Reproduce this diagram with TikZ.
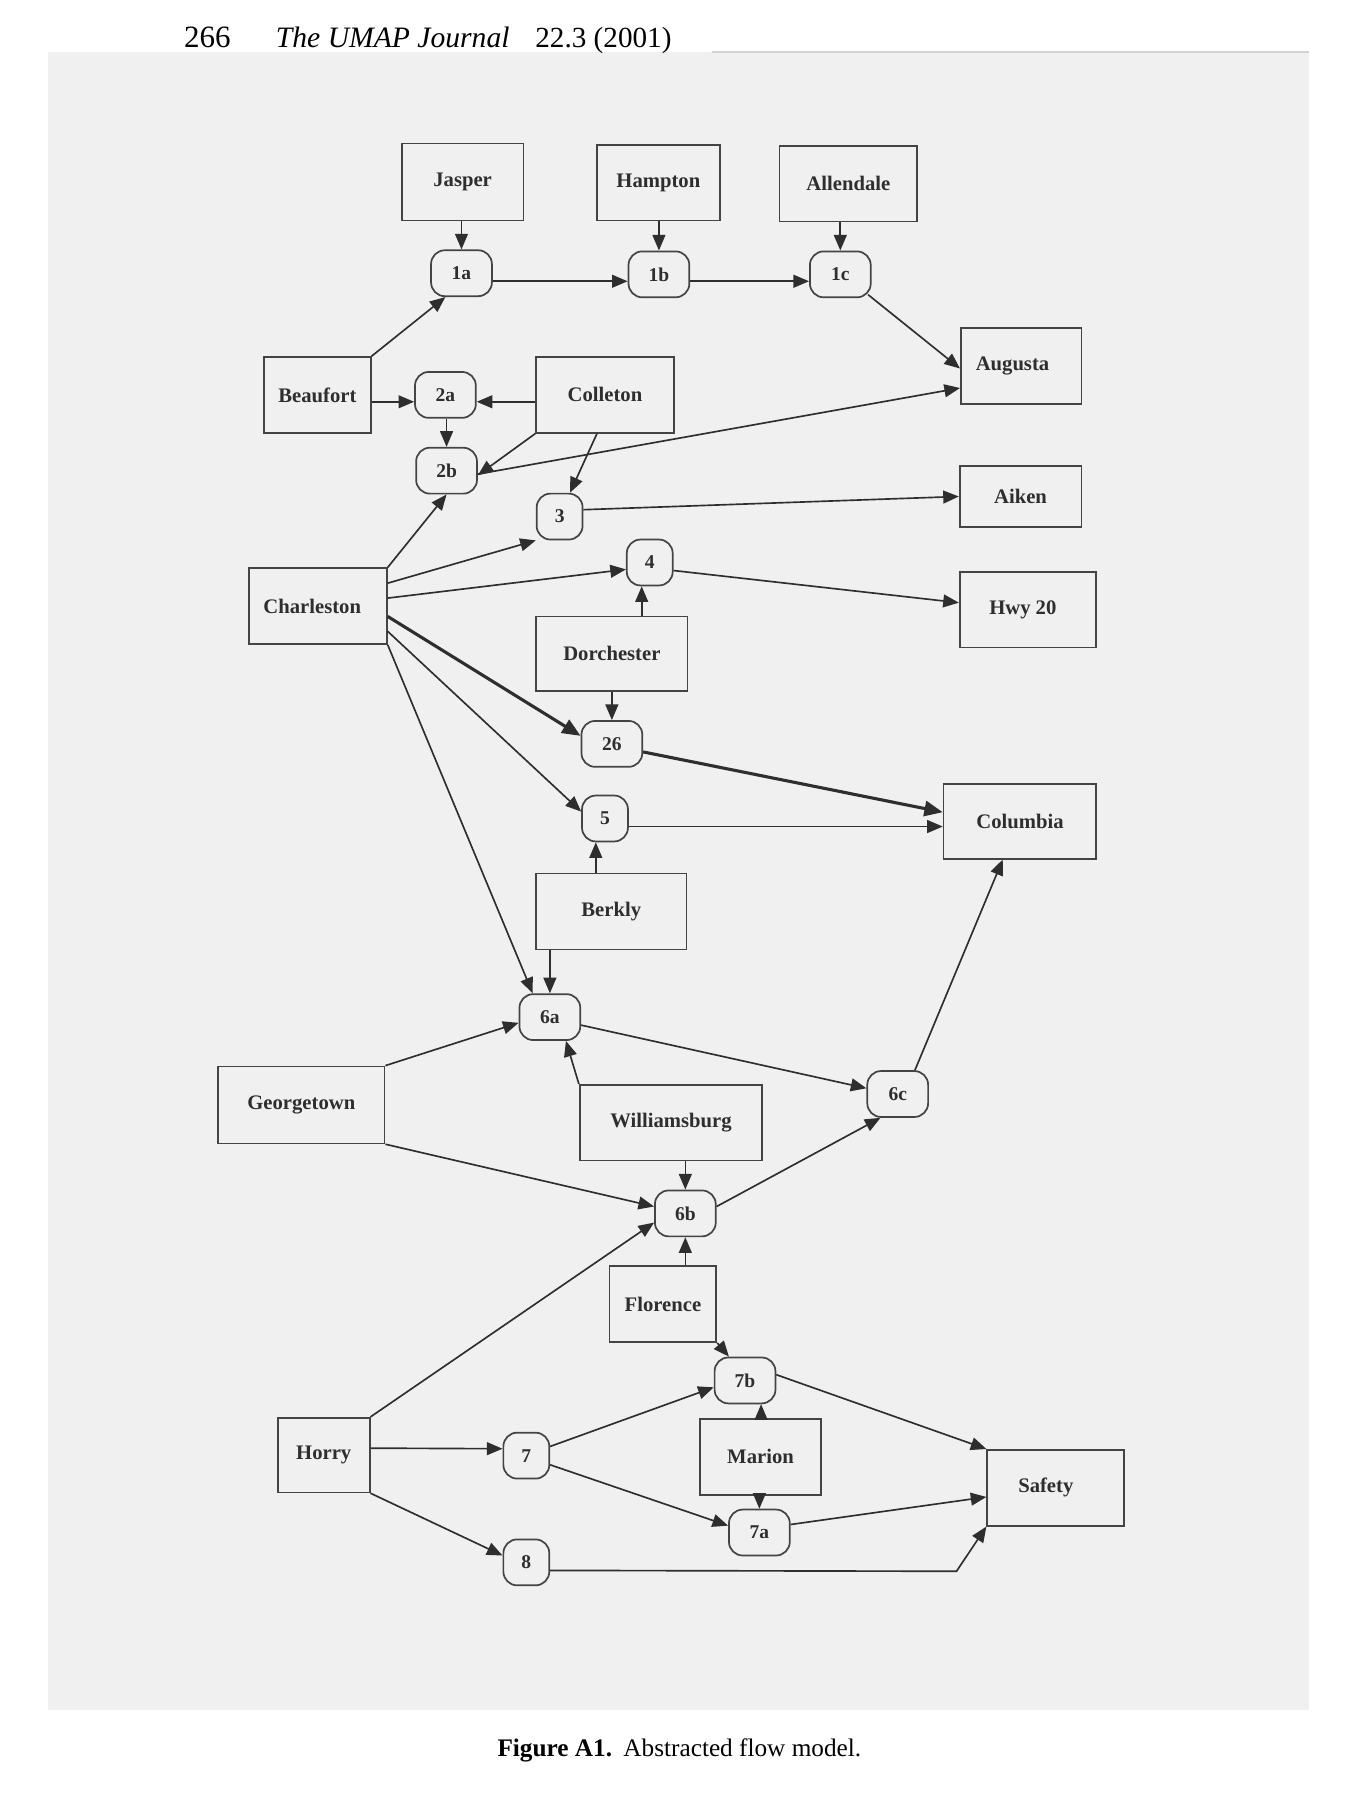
\documentclass[tikz,border=0pt]{standalone}
\usepackage{fontspec}
\setmainfont{Liberation Serif}
\usetikzlibrary{arrows.meta,calc}
\definecolor{scanbg}{HTML}{F0F0F0}
\definecolor{ink}{HTML}{2E2E2E}
\definecolor{frame}{HTML}{444444}
\begin{document}
\begin{tikzpicture}[x=0.5pt,y=-0.5pt,
  county/.style={draw=frame, line width=0.75pt, rectangle, inner sep=0pt,
    font=\bfseries\fontsize{9}{10}\selectfont, text=ink},
  junc/.style={draw=frame, line width=0.75pt, rounded corners=6pt, inner sep=0pt,
    minimum width=20pt, minimum height=20pt,
    font=\bfseries\fontsize{8.5}{10}\selectfont, text=ink},
  wide/.style={minimum width=26.5pt},
  flow/.style={draw=ink, line width=0.72pt, -{Triangle[length=6.8pt,width=5.6pt]}},
  mainflow/.style={draw=ink, line width=1.35pt, -{Triangle[length=8pt,width=6.6pt]}},
  head/.style={anchor=base west, inner sep=0pt, text=black},
]
\useasboundingbox (0,0) rectangle (1188,1568);
\fill[white] (0,0) rectangle (1188,1568);
\fill[scanbg] (42,45) rectangle (1140,1490);
\draw[gray!35, line width=0.8pt] (620,45) -- (1140,45);

% running head and caption
\node[head, font=\fontsize{13.5}{16}\selectfont] (pagenum) at (160,41) {266};
\node[head, font=\itshape\fontsize{12.9}{16}\selectfont] (journal) at (240,41) {The UMAP Journal};
\node[head, font=\fontsize{12.7}{16}\selectfont] (issue) at (466,41) {22.3 (2001)};
\node[head, font=\fontsize{11}{13}\selectfont] (caption) at (433,1530)
  {\textbf{Figure A1.}\hspace{0.45em}Abstracted flow model.};

% counties and destinations
\node[county, minimum width=53pt,   minimum height=33.5pt] (jasper)      at (403,158.5)  {Jasper};
\node[county, minimum width=53.5pt, minimum height=33pt]   (hampton)     at (573.5,159)  {Hampton};
\node[county, minimum width=60pt,   minimum height=33pt]   (allendale)   at (739,160)    {Allendale};
\node[county, minimum width=52.5pt, minimum height=33pt]   (augusta)     at (889.5,319)  {\hspace*{-7.5pt}Augusta};
\node[county, minimum width=46.5pt, minimum height=33pt]   (beaufort)    at (276.5,344)  {Beaufort};
\node[county, minimum width=60pt,   minimum height=33pt]   (colleton)    at (527,344)    {Colleton};
\node[county, minimum width=53pt,   minimum height=26.5pt] (aiken)       at (889,432.5)  {Aiken};
\node[county, minimum width=60pt,   minimum height=33pt]   (charleston)  at (277,528)    {\hspace*{-5pt}Charleston};
\node[county, minimum width=59.5pt, minimum height=33pt]   (hwy20)       at (895.5,531)  {\hspace*{-4.5pt}Hwy 20};
\node[county, minimum width=66pt,   minimum height=32.5pt] (dorchester)  at (533,569.5)  {Dorchester};
\node[county, minimum width=66.5pt, minimum height=32.5pt] (columbia)    at (888.5,715.5){Columbia};
\node[county, minimum width=65.5pt, minimum height=33pt]   (berkly)      at (532.5,794)  {Berkly};
\node[county, minimum width=72.5pt, minimum height=33.5pt] (georgetown)  at (262.5,962.5){Georgetown};
\node[county, minimum width=79.5pt, minimum height=33pt]   (williamsburg) at (584.5,978) {Williamsburg};
\node[county, minimum width=46.5pt, minimum height=33pt]   (florence)    at (577.5,1136) {Florence};
\node[county, minimum width=40pt,   minimum height=32.5pt] (horry)       at (282,1267.5) {Horry};
\node[county, minimum width=52.5pt, minimum height=33pt]   (marion)      at (662.5,1269) {Marion};
\node[county, minimum width=59.5pt, minimum height=33pt]   (safety)      at (919.5,1296) {\hspace*{-8.5pt}Safety};

% junctions
\node[junc, wide] (j1a) at (402,238)    {1a};
\node[junc, wide] (j1b) at (574,239)    {1b};
\node[junc, wide] (j1c) at (732,239)    {1c};
\node[junc, wide] (j2a) at (388,344)    {2a};
\node[junc, wide] (j2b) at (389,410)    {2b};
\node[junc]       (j3)  at (487.5,450)  {3};
\node[junc]       (j4)  at (566,490)    {4};
\node[junc, wide] (j26) at (533,648)    {26};
\node[junc]       (j5)  at (527,713)    {5};
\node[junc, wide] (j6a) at (479,886)    {6a};
\node[junc, wide] (j6c) at (782,953)    {6c};
\node[junc, wide] (j6b) at (597,1057)   {6b};
\node[junc, wide] (j7b) at (649,1202.5) {7b};
\node[junc]       (j7)  at (458.5,1268) {7};
\node[junc, wide] (j7a) at (661.5,1335) {7a};
\node[junc]       (j8)  at (458.5,1361) {8};

% flows
\draw[flow] (j1a.north |- jasper.south) -- (j1a.north);
\draw[flow] (j1b.north |- hampton.south) -- (j1b.north);
\draw[flow] (j1c.north |- allendale.south) -- (j1c.north);
\draw[flow] ($(j1a.east)+(0,7)$) -- ($(j1b.west)+(0,6)$);
\draw[flow] ($(j1b.east)+(0,6)$) -- ($(j1c.west)+(0,6)$);
\draw[flow] (beaufort.north east) -- ($(j1a.south)+(-14,0)$);
\draw[flow] ($(j1c.south east)+(-3,-3)$) -- ($(augusta.west)+(0,2)$);
\draw[flow] ($(beaufort.east)+(0,6)$) -- ($(j2a.west)+(0,6)$);
\draw[flow] ($(colleton.west)+(0,6)$) -- ($(j2a.east)+(0,6)$);
\draw[flow] (j2b.north |- j2a.south) -- (j2b.north);
\draw[flow] (colleton.south west) -- ($(j2b.east)+(0,4)$);
\draw[flow] ($(j2b.east)+(0,3)$) -- ($(augusta.west)+(0,19)$);
\draw[flow] ($(colleton.south)+(-7,0)$) -- ($(j3.north)+(9,0)$);
\draw[flow] ($(j3.east)+(0,-6)$) -- (aiken.west);
\draw[flow] (charleston.north east) -- (j2b.south);
\draw[flow] ($(charleston.east)+(0,-20)$) -- (j3.south west);
\draw[flow] ($(charleston.east)+(0,-7)$) -- ($(j4.west)+(0,6)$);
\draw[flow] ($(j4.east)+(0,7)$) -- ($(hwy20.west)+(0,-6)$);
\coordinate (d4) at ($(j4.south)+(-7,0)$);
\draw[flow] (d4 |- dorchester.north) -- (d4);
\draw[flow] (j26.north |- dorchester.south) -- (j26.north);
\draw[mainflow] ($(charleston.east)+(0,9)$) -- ($(j26.west)+(0,-7)$);
\draw[mainflow] ($(j26.east)+(0,7)$) -- ($(columbia.west)+(0,-8)$);
\draw[flow] ($(charleston.east)+(0,22)$) -- ($(j5.west)+(0,-6)$);
\draw[flow] ($(j5.east)+(0,7)$) -- ($(columbia.west)+(0,4.5)$);
\coordinate (b5) at ($(j5.south)+(-8,0)$);
\draw[flow] (b5 |- berkly.north) -- (b5);
\draw[flow] (charleston.south east) -- ($(j6a.north)+(-15,0)$);
\draw[flow] (j6a.north |- berkly.south) -- (j6a.north);
\draw[flow] (georgetown.north east) -- ($(j6a.west)+(0,5)$);
\draw[flow] (williamsburg.north west) -- ($(j6a.south)+(14,0)$);
\draw[flow] ($(j6a.east)+(0,7)$) -- ($(j6c.west)+(0,-5)$);
\draw[flow] (georgetown.south east) -- ($(j6b.west)+(0,-6)$);
\draw[flow] (j6b.north |- williamsburg.south) -- (j6b.north);
\draw[flow] ($(j6b.east)+(0,-6)$) -- ($(j6c.south)+(-15,0)$);
\draw[flow] ($(j6c.north)+(15,0)$) -- ($(columbia.south)+(-15,0)$);
\draw[flow] (horry.north east) -- ($(j6b.west)+(0,8)$);
\draw[flow] (j6b.south |- florence.north) -- (j6b.south);
\draw[flow] (florence.south east) -- ($(j7b.north)+(-14,0)$);
\draw[flow] ($(horry.east)+(0,-6)$) -- ($(j7.west)+(0,-6)$);
\draw[flow] ($(j7.east)+(0,-8)$) -- ($(j7b.west)+(0,6)$);
\draw[flow] ($(j7.east)+(0,8)$) -- ($(j7a.west)+(0,-6)$);
\coordinate (m7b) at ($(j7b.south)+(14,0)$);
\draw[flow] (m7b |- marion.north) -- (m7b);
\draw[flow] (j7a.north |- marion.south) -- (j7a.north);
\draw[flow] ($(j7b.east)+(0,-5)$) -- (safety.north west);
\draw[flow] ($(j7a.east)+(0,-7)$) -- ($(safety.west)+(0,8)$);
\draw[flow] (horry.south east) -- ($(j8.west)+(0,-6)$);
\draw[flow] ($(j8.east)+(0,7)$) -- ($(safety.south west)+(-26,39)$) -- (safety.south west);
\end{tikzpicture}
\end{document}
